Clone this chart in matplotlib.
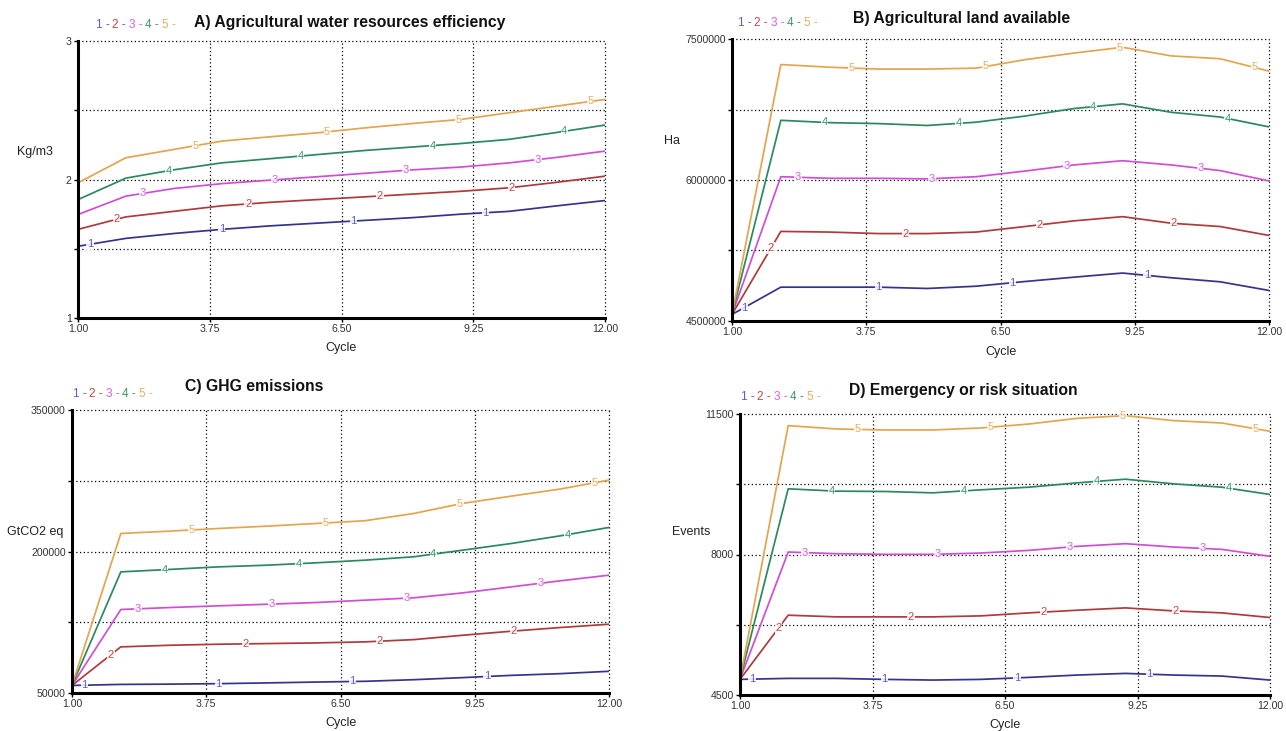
import numpy as np
import matplotlib
matplotlib.use("Agg")
import matplotlib.pyplot as plt

W, H = 1286, 731
FONT = ['Liberation Sans Narrow', 'Liberation Sans', 'DejaVu Sans']
plt.rcParams['font.family'] = FONT

cycles = list(range(1, 13))
series_names = ["1", "2", "3", "4", "5"]
line_colors = ["#34348f", "#b03a3a", "#d04ed6", "#2a8a5c", "#e3a54e"]
label_colors = ["#5c5cd6", "#c04848", "#d860e0", "#3a9a6a", "#eaae5c"]

# A) Agricultural water resources efficiency (Kg/m3)
water_eff = [
    [1.518, 1.575, 1.61, 1.64, 1.665, 1.685, 1.705, 1.725, 1.75, 1.77, 1.81, 1.848],
    [1.64, 1.73, 1.77, 1.81, 1.835, 1.855, 1.875, 1.895, 1.915, 1.94, 1.98, 2.024],
    [1.747, 1.88, 1.935, 1.97, 1.995, 2.02, 2.045, 2.07, 2.09, 2.12, 2.16, 2.205],
    [1.855, 2.01, 2.07, 2.12, 2.15, 2.18, 2.21, 2.235, 2.26, 2.29, 2.34, 2.393],
    [1.976, 2.157, 2.217, 2.277, 2.308, 2.337, 2.373, 2.405, 2.434, 2.482, 2.53, 2.578],
]
# B) Agricultural land available (Ha)
land_avail = [
    [4.57e6, 4.86e6, 4.86e6, 4.86e6, 4.846e6, 4.87e6, 4.92e6, 4.966e6, 5.01e6, 4.96e6, 4.917e6, 4.825e6],
    [4.57e6, 5.453e6, 5.446e6, 5.43e6, 5.43e6, 5.446e6, 5.505e6, 5.565e6, 5.61e6, 5.54e6, 5.505e6, 5.41e6],
    [4.57e6, 6.035e6, 6.018e6, 6.018e6, 6.012e6, 6.035e6, 6.095e6, 6.16e6, 6.205e6, 6.16e6, 6.10e6, 5.99e6],
    [4.57e6, 6.635e6, 6.61e6, 6.60e6, 6.58e6, 6.615e6, 6.68e6, 6.76e6, 6.81e6, 6.72e6, 6.67e6, 6.565e6],
    [4.57e6, 7.228e6, 7.20e6, 7.18e6, 7.18e6, 7.19e6, 7.28e6, 7.35e6, 7.412e6, 7.32e6, 7.29e6, 7.158e6],
]
# C) GHG emissions (GtCO2 eq)
ghg = [
    [58000, 59100, 59400, 59900, 60700, 61600, 62400, 64100, 66300, 68700, 70500, 73000],
    [58000, 98900, 100600, 101700, 102400, 103100, 104200, 106600, 111200, 115500, 119400, 122900],
    [58000, 138500, 140600, 142400, 144100, 145900, 148400, 150900, 156100, 162500, 168900, 174900],
    [58000, 178400, 181000, 183700, 185500, 188000, 190800, 194400, 201400, 208500, 216600, 225500],
    [58000, 219100, 221600, 224400, 226900, 229700, 232600, 240300, 251000, 258700, 266200, 275700],
]
# D) Emergency or risk situation (Events)
emergency = [
    [4889, 4914, 4914, 4889, 4872, 4889, 4939, 4997, 5038, 4997, 4972, 4872],
    [4889, 6488, 6446, 6446, 6446, 6471, 6546, 6612, 6670, 6595, 6546, 6430],
    [4889, 8062, 8020, 8004, 8004, 8037, 8103, 8203, 8269, 8186, 8128, 7954],
    [4889, 9636, 9578, 9570, 9536, 9611, 9677, 9785, 9876, 9760, 9677, 9495],
    [4889, 11210, 11127, 11102, 11102, 11152, 11251, 11392, 11459, 11334, 11276, 11069],
]

x_ticks = [1.0, 3.75, 6.5, 9.25, 12.0]
x_tick_labels = ["1.00", "3.75", "6.50", "9.25", "12.00"]

panels = [
    dict(data=water_eff, title="A) Agricultural water resources efficiency", ylabel="Kg/m3",
         ylim=(1, 3), ylabels=["1", "", "2", "", "3"],
         box=(78, 41, 605, 318), title_xy=(350, 22), leg_xy=(96, 25),
         ylab_xy=(35, 152), xlab_y=348),
    dict(data=land_avail, title="B) Agricultural land available", ylabel="Ha",
         ylim=(4.5e6, 7.5e6), ylabels=["4500000", "", "6000000", "", "7500000"],
         box=(732, 39, 1269, 321), title_xy=(962, 18), leg_xy=(738, 23),
         ylab_xy=(672, 141), xlab_y=352),
    dict(data=ghg, title="C) GHG emissions", ylabel="GtCO2 eq",
         ylim=(50000, 350000), ylabels=["50000", "", "200000", "", "350000"],
         box=(72, 410, 609, 693), title_xy=(254, 387), leg_xy=(73, 394),
         ylab_xy=(35, 532), xlab_y=723),
    dict(data=emergency, title="D) Emergency or risk situation", ylabel="Events",
         ylim=(4500, 11500), ylabels=["4500", "", "8000", "", "11500"],
         box=(740, 414, 1270, 695), title_xy=(963, 390), leg_xy=(741, 397),
         ylab_xy=(691, 532), xlab_y=725),
]

fig = plt.figure(figsize=(W / 100, H / 100), dpi=100)
fig.patch.set_facecolor("white")

def fx(px):
    return px / W

def fy(py):
    return 1 - py / H

dot = (0, (1, 2))
for p in panels:
    l, t, r, b = p["box"]
    ax = fig.add_axes([fx(l), fy(b), (r - l) / W, (b - t) / H])
    y0, y1 = p["ylim"]
    yt = np.linspace(y0, y1, 5)
    for k, vals in enumerate(p["data"]):
        ax.plot(cycles, vals, color=line_colors[k], lw=1.25, zorder=3)
        xs = 1.25 + 0.55 * k + 2.75 * np.arange(4)
        ys = np.interp(xs, cycles, vals)
        for xv, yv in zip(xs, ys):
            ax.text(xv, yv, series_names[k], color=label_colors[k], fontsize=8,
                    ha="center", va="center", zorder=4,
                    bbox=dict(boxstyle="square,pad=0.05", fc="white", ec="none", alpha=0.85))
    ax.set_xlim(1, 12)
    ax.set_ylim(y0, y1)
    ax.set_xticks(x_ticks)
    ax.set_xticklabels(x_tick_labels)
    ax.set_yticks(yt)
    ax.set_yticklabels(p["ylabels"])
    ax.tick_params(axis="both", direction="out", length=3, width=1, labelsize=7.6,
                   labelcolor="#333333", pad=1.5)
    for v in yt[1:]:
        ax.axhline(v, color="black", lw=0.9, ls=dot, zorder=1, clip_on=False)
    for v in x_ticks[1:]:
        ax.axvline(v, color="black", lw=0.9, ls=dot, zorder=1, clip_on=False)
    for s in ("top", "right"):
        ax.spines[s].set_visible(False)
    for s in ("left", "bottom"):
        ax.spines[s].set_linewidth(2.2)
        ax.spines[s].set_color("black")
        ax.spines[s].set_zorder(5)

    tx, ty = p["title_xy"]
    fig.text(fx(tx), fy(ty), p["title"], fontsize=11.3, fontweight="bold",
             ha="center", va="center", color="#111111")
    lx, ly = p["leg_xy"]
    for k in range(5):
        fig.text(fx(lx + k * 16.4), fy(ly), series_names[k] + " -", fontsize=8.5,
                 color=label_colors[k], ha="left", va="center")
    yx, yy = p["ylab_xy"]
    fig.text(fx(yx), fy(yy), p["ylabel"], fontsize=9, ha="center", va="center", color="#222222")
    fig.text(fx((l + r) / 2), fy(p["xlab_y"]), "Cycle", fontsize=9, ha="center", va="center",
             color="#222222")

fig.savefig("out.png", dpi=100, facecolor="white")
